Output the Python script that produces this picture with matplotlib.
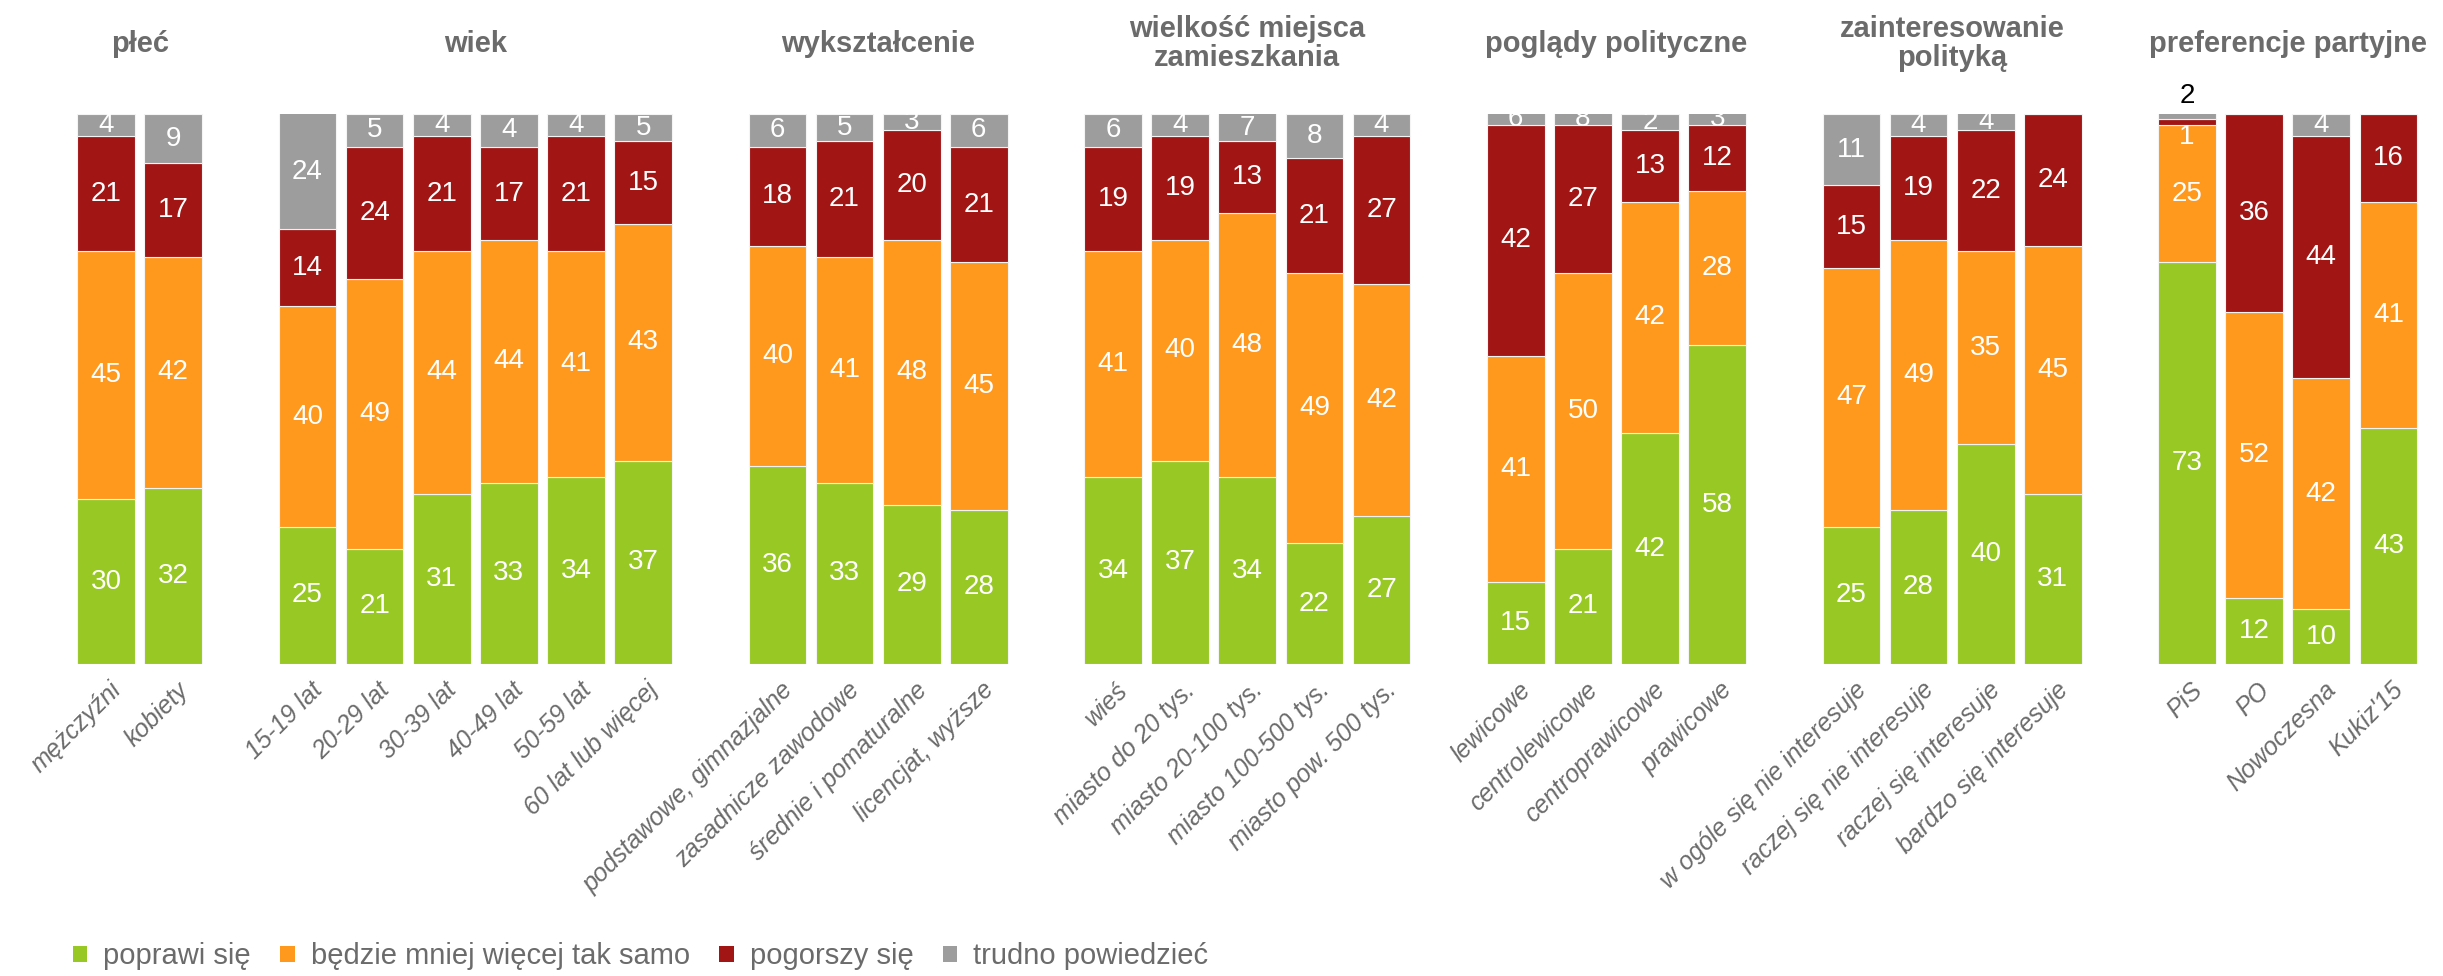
import numpy as np
import matplotlib
matplotlib.use('Agg')
import matplotlib.pyplot as plt
from matplotlib.patches import Patch

plt.rcParams['font.family'] = ['Liberation Sans', 'DejaVu Sans']

# --- dane ---
groups = ['płeć', 'wiek', 'wykształcenie', 'wielkość miejsca\nzamieszkania',
          'poglądy polityczne', 'zainteresowanie\npolityką', 'preferencje partyjne']
group_sizes = [2, 6, 4, 5, 4, 4, 4]

categories = ['mężczyźni', 'kobiety',
              '15-19 lat', '20-29 lat', '30-39 lat', '40-49 lat', '50-59 lat', '60 lat lub więcej',
              'podstawowe, gimnazjalne', 'zasadnicze zawodowe', 'średnie i pomaturalne', 'licencjat, wyższe',
              'wieś', 'miasto do 20 tys.', 'miasto 20-100 tys.', 'miasto 100-500 tys.', 'miasto pow. 500 tys.',
              'lewicowe', 'centrolewicowe', 'centroprawicowe', 'prawicowe',
              'w ogóle się nie interesuje', 'raczej się nie interesuje', 'raczej się interesuje',
              'bardzo się interesuje',
              'PiS', 'PO', 'Nowoczesna', "Kukiz'15"]

poprawi = [30, 32, 25, 21, 31, 33, 34, 37, 36, 33, 29, 28, 34, 37, 34, 22, 27,
           15, 21, 42, 58, 25, 28, 40, 31, 73, 12, 10, 43]
tak_samo = [45, 42, 40, 49, 44, 44, 41, 43, 40, 41, 48, 45, 41, 40, 48, 49, 42,
            41, 50, 42, 28, 47, 49, 35, 45, 25, 52, 42, 41]
pogorszy = [21, 17, 14, 24, 21, 17, 21, 15, 18, 21, 20, 21, 19, 19, 13, 21, 27,
            42, 27, 13, 12, 15, 19, 22, 24, 1, 36, 44, 16]
trudno = [4, 9, 24, 5, 4, 4, 4, 5, 6, 5, 3, 6, 6, 4, 7, 8, 4,
          6, 8, 2, 3, 11, 4, 4, 0, 2, 0, 4, 0]

series_names = ['poprawi się', 'będzie mniej więcej tak samo', 'pogorszy się', 'trudno powiedzieć']
colors = ['#97c823', '#ff991e', '#a11515', '#9d9d9d']
GREY_TXT = '#6b6b6b'

# pozycje słupków: jedna pusta pozycja między grupami
positions = []
group_centers = []
p = 0
for n in group_sizes:
    xs = list(range(p, p + n))
    positions += xs
    group_centers.append((xs[0] + xs[-1]) / 2)
    p += n + 1
positions = np.array(positions, dtype=float)

fig = plt.figure(figsize=(24.43, 9.76), dpi=100)
ax = fig.add_axes([0.0297, 0.3195, 0.9617, 0.5639])

data = [np.array(s, dtype=float) for s in (poprawi, tak_samo, pogorszy, trudno)]
bottom = np.zeros(len(categories))
for i, (vals, col) in enumerate(zip(data, colors)):
    heights = vals.copy()
    if i == 3:
        # ostatni segment domyka słupek do 100 (zaokrąglenia)
        heights = np.where(vals > 0, np.maximum(vals, 100 - bottom), 0)
    ax.bar(positions, heights, bottom=bottom, width=0.86, color=col,
           edgecolor='#f4f4f4', linewidth=0.8)
    for j, (x, v, b, h) in enumerate(zip(positions, vals, bottom, heights)):
        if v <= 0:
            continue
        lo, hi = min(b, 100), min(b + h, 100)
        y = (lo + hi) / 2
        color = 'white'
        clip = True
        if categories[j] == 'PiS' and i == 2:
            y = 95.8
        if categories[j] == 'PiS' and i == 3:
            y = 103.3
            color = 'black'
            clip = False
        ax.text(x, y, f'{int(v)}', ha='center', va='center', fontsize=20,
                color=color, clip_on=clip)
    bottom = bottom + heights

ax.set_xlim(-0.5, positions[-1] + 0.5)
ax.set_ylim(0, 100)
for s in ax.spines.values():
    s.set_visible(False)
ax.set_yticks([])
ax.set_xticks(positions + 0.17)
ax.set_xticklabels(categories, rotation=45, ha='right', va='center',
                   rotation_mode='anchor', fontsize=18, fontstyle='italic', color=GREY_TXT)
ax.tick_params(axis='x', length=0, pad=16)

# tytuły grup
for title, c in zip(groups, group_centers):
    xf = ax.transData.transform((c, 0))[0] / fig.bbox.width
    fig.text(xf, 0.955, title, ha='center', va='center', fontsize=21,
             fontweight='bold', color=GREY_TXT, linespacing=1.05)

handles = [Patch(facecolor=c, edgecolor='none') for c in colors]
fig.legend(handles, series_names, loc='center left', bbox_to_anchor=(0.019, 0.02),
           ncol=4, frameon=False, fontsize=21, labelcolor=GREY_TXT,
           handlelength=0.5, handleheight=0.5, handletextpad=0.55, columnspacing=1.0)

fig.savefig('out.png', dpi=100)
